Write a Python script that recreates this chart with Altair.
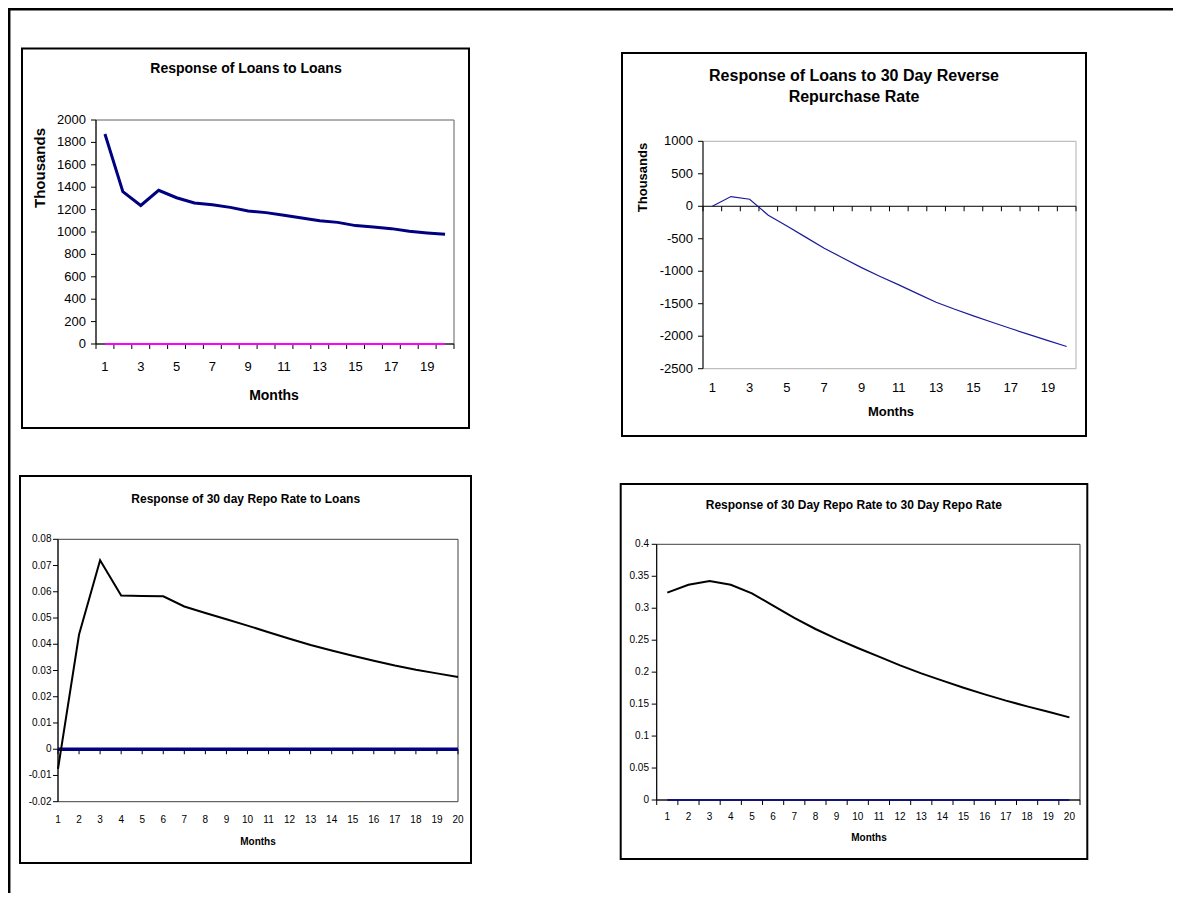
import altair as alt
import pandas as pd

# ---------------- data ----------------
months = [1, 2, 3, 4, 5, 6, 7, 8, 9, 10, 11, 12, 13, 14, 15, 16, 17, 18, 19, 20]
zero_response = [0, 0, 0, 0, 0, 0, 0, 0, 0, 0, 0, 0, 0, 0, 0, 0, 0, 0, 0, 0]

loans_to_loans = [1875, 1360, 1237, 1372, 1306, 1259, 1244, 1220, 1187, 1173,
                  1149, 1125, 1101, 1086, 1057, 1045, 1030, 1006, 991, 979]
loans_to_repo = [0, 149, 108, -138, -303, -475, -646, -795, -944, -1080,
                 -1210, -1345, -1477, -1585, -1687, -1785, -1882, -1975, -2067, -2159]
repo_to_loans = [-0.0075, 0.0437, 0.0720, 0.0586, 0.0584, 0.0583, 0.0544, 0.0519, 0.0495, 0.0471,
                 0.0446, 0.0421, 0.0397, 0.0376, 0.0356, 0.0337, 0.0319, 0.0303, 0.0289, 0.0275]
repo_to_repo = [0.3244, 0.3368, 0.3426, 0.3368, 0.3233, 0.3040, 0.2848, 0.2675, 0.2520, 0.2378,
                0.2243, 0.2107, 0.1980, 0.1867, 0.1757, 0.1653, 0.1554, 0.1465, 0.1382, 0.1293]

p1_yticks = [0, 200, 400, 600, 800, 1000, 1200, 1400, 1600, 1800, 2000]
p1_ylabels = ["0", "200", "400", "600", "800", "1000", "1200", "1400", "1600", "1800", "2000"]
p2_yticks = [-2500, -2000, -1500, -1000, -500, 0, 500, 1000]
p2_ylabels = ["-2500", "-2000", "-1500", "-1000", "-500", "0", "500", "1000"]
p3_yticks = [-0.02, -0.01, 0, 0.01, 0.02, 0.03, 0.04, 0.05, 0.06, 0.07, 0.08]
p3_ylabels = ["-0.02", "-0.01", "0", "0.01", "0.02", "0.03", "0.04", "0.05", "0.06", "0.07", "0.08"]
p4_yticks = [0, 0.05, 0.1, 0.15, 0.2, 0.25, 0.3, 0.35, 0.4]
p4_ylabels = ["0", "0.05", "0.1", "0.15", "0.2", "0.25", "0.3", "0.35", "0.4"]

odd_month_labels = [1, 3, 5, 7, 9, 11, 13, 15, 17, 19]
all_month_labels = months
category_bounds = [0.5, 1.5, 2.5, 3.5, 4.5, 5.5, 6.5, 7.5, 8.5, 9.5, 10.5,
                   11.5, 12.5, 13.5, 14.5, 15.5, 16.5, 17.5, 18.5, 19.5, 20.5]

FONT = "Liberation Sans"
ONE = pd.DataFrame({"k": [0]})


def txt(s, x, y, size, bold=False, angle=0):
    kw = dict(text=s, font=FONT, fontSize=size, align="center", baseline="middle", color="black")
    if bold:
        kw["fontWeight"] = "bold"
    if angle:
        kw["angle"] = angle
    return alt.Chart(ONE).mark_text(**kw).encode(x=alt.value(x), y=alt.value(y))


def panel(p):
    L, T, R, B = p["plot"]
    xs = alt.Scale(domain=p["xdom"], range=[L, R], zero=False, nice=False)
    ys = alt.Scale(domain=p["ydom"], range=[B, T], zero=False, nice=False)
    X = alt.X("m:Q", scale=xs, axis=None)
    Y = alt.Y("v:Q", scale=ys, axis=None)
    fx0, fy0, fx1, fy1 = p["frame"]
    layers = [
        alt.Chart(ONE).mark_rect(fill="white", stroke="black", strokeWidth=2).encode(
            x=alt.value(fx0), x2=alt.value(fx1), y=alt.value(fy0), y2=alt.value(fy1)),
        alt.Chart(ONE).mark_rect(fillOpacity=0, stroke=p["border"], strokeWidth=1).encode(
            x=alt.value(L), x2=alt.value(R), y=alt.value(T), y2=alt.value(B)),
    ]
    # horizontal (category) axis at zero
    layers.append(alt.Chart(pd.DataFrame({"v": [0]})).mark_rule(color="black", strokeWidth=1).encode(
        y=Y, x=alt.value(L), x2=alt.value(R)))
    tick_df = pd.DataFrame({"m": p["xticks"], "v": [0] * len(p["xticks"])})
    layers.append(alt.Chart(tick_df).mark_tick(orient="vertical", size=5, thickness=1, yOffset=2.5,
                                               color="black", opacity=1).encode(x=X, y=Y))
    # series
    for vals, color, width in p["series"]:
        df = pd.DataFrame({"m": months, "v": vals})
        layers.append(alt.Chart(df).mark_line(color=color, strokeWidth=width).encode(x=X, y=Y))
    # value axis
    layers.append(alt.Chart(ONE).mark_rule(color="black").encode(
        x=alt.value(L), y=alt.value(T), y2=alt.value(B)))
    ydf = pd.DataFrame({"v": p["yticks"], "lab": p["ylabels"]})
    layers.append(alt.Chart(ydf).mark_rule(color="black").encode(
        y=Y, x=alt.value(L - 5), x2=alt.value(L)))
    layers.append(alt.Chart(ydf).mark_text(align="right", baseline="middle", font=FONT,
                                           fontSize=p["ls"], color="black").encode(
        y=Y, x=alt.value(p["ylab_x"]), text="lab:N"))
    xdf = pd.DataFrame({"m": p["xlabels"], "lab": [str(v) for v in p["xlabels"]]})
    layers.append(alt.Chart(xdf).mark_text(align="center", baseline="middle", font=FONT,
                                           fontSize=p["ls"], color="black").encode(
        x=X, y=alt.value(p["xlab_y"]), text="lab:N"))
    for t in p["titles"]:
        layers.append(txt(t[0], t[1], t[2], t[3], bold=True))
    if p.get("ytitle"):
        t = p["ytitle"]
        layers.append(txt(t[0], t[1], t[2], t[3], bold=True, angle=270))
    t = p["xtitle"]
    layers.append(txt(t[0], t[1], t[2], t[3], bold=True))
    return alt.layer(*layers)


p1 = panel(dict(
    frame=(14, 40.5, 461, 420), plot=(88, 112, 446, 336),
    xdom=[0.5, 20.5], ydom=[0, 2000], border="#606060",
    yticks=p1_yticks, ylabels=p1_ylabels, xlabels=odd_month_labels, xticks=category_bounds,
    ylab_x=78, xlab_y=359, ls=13,
    series=[(loans_to_loans, "#000080", 3), (zero_response, "#ff00ff", 2)],
    titles=[("Response of Loans to Loans", 238, 61, 14)],
    ytitle=("Thousands", 32, 160, 15),
    xtitle=("Months", 266, 388, 14),
))

p2 = panel(dict(
    frame=(614, 45, 1078, 428), plot=(695, 133.3, 1068, 360.7),
    xdom=[0.5, 20.5], ydom=[-2500, 1000], border="#b0b0b0",
    yticks=p2_yticks, ylabels=p2_ylabels, xlabels=odd_month_labels, xticks=category_bounds,
    ylab_x=685, xlab_y=380, ls=13,
    series=[(loans_to_repo, "#1a1a9a", 1.2)],
    titles=[("Response of Loans to 30 Day Reverse", 846, 68, 16),
            ("Repurchase Rate", 846, 89, 16)],
    ytitle=("Thousands", 635, 169.5, 13),
    xtitle=("Months", 883, 404, 13),
))

p3 = panel(dict(
    frame=(12, 468, 463, 855), plot=(50, 531.3, 450, 793.7),
    xdom=[1, 20], ydom=[-0.02, 0.08], border="#404040",
    yticks=p3_yticks, ylabels=p3_ylabels, xlabels=all_month_labels, xticks=months,
    ylab_x=43.5, xlab_y=812, ls=10,
    series=[(zero_response, "#000080", 3.5), (repo_to_loans, "black", 2)],
    titles=[("Response of 30 day Repo Rate to Loans", 237.7, 491, 12)],
    xtitle=("Months", 250, 833.7, 10),
))

p4 = panel(dict(
    frame=(612.7, 476, 1079.3, 851), plot=(648.7, 536.3, 1072, 792),
    xdom=[0.5, 20.5], ydom=[0, 0.4], border="#404040",
    yticks=p4_yticks, ylabels=p4_ylabels, xlabels=all_month_labels, xticks=category_bounds,
    ylab_x=641, xlab_y=808.7, ls=10,
    series=[(repo_to_repo, "black", 2), (zero_response, "#000080", 1.5)],
    titles=[("Response of 30 Day Repo Rate to 30 Day Repo Rate", 845.8, 497, 12)],
    xtitle=("Months", 861, 830, 10),
))

outer_top = alt.Chart(ONE).mark_rule(color="black", strokeWidth=2.5).encode(
    x=alt.value(0), x2=alt.value(1165), y=alt.value(1.2))
outer_left = alt.Chart(ONE).mark_rule(color="black", strokeWidth=2.5).encode(
    x=alt.value(1.2), y=alt.value(0), y2=alt.value(885))

chart = alt.layer(outer_top, outer_left, p1, p2, p3, p4).resolve_scale(
    x="independent", y="independent"
).properties(
    width=1165, height=885, autosize=alt.AutoSizeParams(type="none"), padding=0
).configure_view(strokeOpacity=0)

chart.save("out.html", embed_options={"renderer": "svg", "actions": False})
